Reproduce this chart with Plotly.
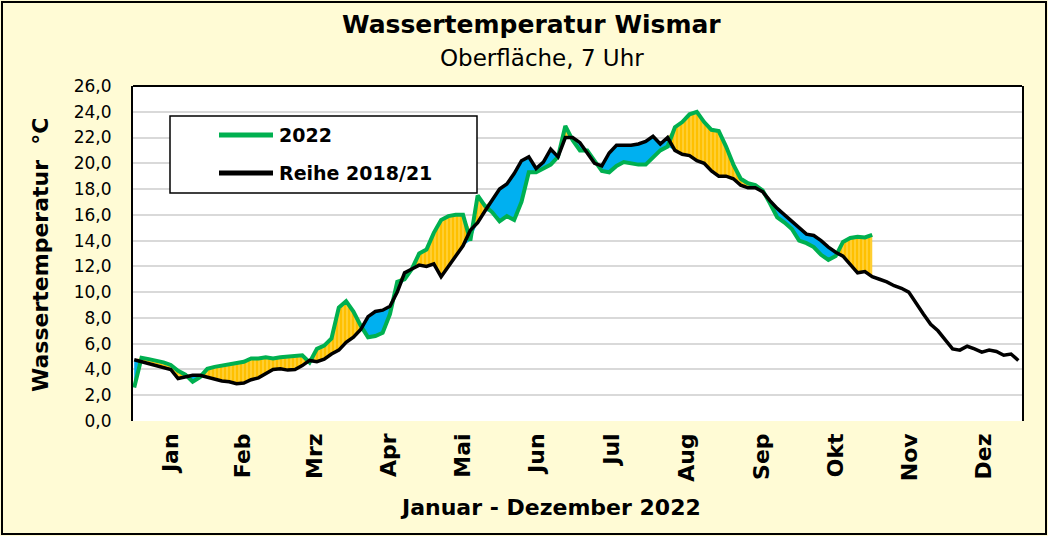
import numpy as np
import plotly.graph_objects as go

# ---------------- data ----------------
days = list(range(1, 366, 3))  # sample days of the year

ref_vals = [
    4.75, 4.6, 4.45, 4.3, 4.2, 4.0, 3.3, 3.45, 3.55, 3.55,
    3.4, 3.2, 3.1, 3.05, 2.9, 2.95, 3.2, 3.35, 3.7, 4.0,
    4.05, 3.95, 4.0, 4.3, 4.7, 4.6, 4.8, 5.2, 5.5, 6.1,
    6.5, 7.1, 8.1, 8.5, 8.6, 8.9, 10.0, 11.5, 11.8, 12.1,
    12.0, 12.2, 11.2, 12.0, 12.7, 13.6, 14.8, 15.4, 16.3, 17.2,
    18.0, 18.4, 19.2, 20.2, 20.5, 19.6, 20.1, 21.1, 20.5, 22.0,
    22.0, 21.6, 20.8, 20.0, 19.8, 20.8, 21.4, 21.4, 21.4, 21.5,
    21.7, 22.1, 21.5, 22.0, 21.0, 20.7, 20.6, 20.2, 20.0, 19.4,
    19.0, 19.0, 18.8, 18.3, 18.1, 18.1, 17.8, 17.1, 16.5, 16.0,
    15.5, 15.0, 14.5, 14.4, 14.0, 13.5, 13.1, 12.8, 12.1, 11.5,
    11.6, 11.2, 11.0, 10.8, 10.5, 10.3, 10.0, 9.1, 8.3, 7.5,
    7.0, 6.3, 5.6, 5.5, 5.8, 5.6, 5.35, 5.5, 5.4, 5.1,
    5.2, 4.7,
]

vals_2022 = [
    2.6, 4.9, 4.8, 4.7, 4.55, 4.35, 3.9, 3.6, 3.05, 3.4,
    4.05, 4.2, 4.3, 4.45, 4.55, 4.6, 4.85, 4.85, 4.95, 4.85,
    4.95, 5.0, 5.0, 5.1, 4.55, 5.6, 5.85, 6.4, 8.8, 9.3,
    8.5, 7.4, 6.5, 6.6, 6.85, 8.3, 10.8, 11.0, 11.8, 13.0,
    13.3, 14.6, 15.6, 15.9, 16.0, 16.0, 14.0, 17.5, 16.7, 16.2,
    15.5, 15.9, 15.6, 17.0, 19.3, 19.3, 19.6, 19.9, 20.5, 22.9,
    21.8, 21.0, 21.0, 20.2, 19.4, 19.3, 19.8, 20.1, 20.0, 19.9,
    19.9, 20.4, 21.0, 21.3, 22.8, 23.2, 23.8, 24.0, 23.2, 22.6,
    22.5, 21.3, 19.9, 18.8, 18.45, 18.3, 17.9, 16.9, 15.8, 15.4,
    14.9, 14.0, 13.8, 13.5, 12.9, 12.5, 12.8, 13.9, 14.2, 14.3,
    14.25, 14.45,
]

month_labels = ["Jan", "Feb", "Mrz", "Apr", "Mai", "Jun",
                "Jul", "Aug", "Sep", "Okt", "Nov", "Dez"]
month_mid_days = [16, 45.5, 75, 105.5, 136, 166.5, 197, 228, 258.5, 289, 319.5, 350]

series_names = ["2022", "Reihe 2018/21"]

# ---------------- styling ----------------
FONT = "DejaVu Sans"
CREAM = "#FFFBD5"
GREEN = "#00B050"
ORANGE = "#FFC000"
BLUE = "#00B0F0"

n22 = len(vals_2022)
d22 = np.array(days[:n22])
a = np.array(vals_2022)
r = np.array(ref_vals[:n22])
hi = np.maximum(a, r)
lo = np.minimum(a, r)

fig = go.Figure()
# orange band (2022 above reference)
fig.add_trace(go.Scatter(x=d22, y=r, mode="lines", line=dict(width=0),
                         showlegend=False, hoverinfo="skip"))
fig.add_trace(go.Scatter(x=d22, y=hi, mode="lines", line=dict(width=0),
                         fill="tonexty", fillcolor=ORANGE,
                         fillpattern=dict(shape="|", fgcolor="#FFF0A8", bgcolor=ORANGE,
                                          size=4, solidity=0.3),
                         showlegend=False, hoverinfo="skip"))
# blue band (2022 below reference)
fig.add_trace(go.Scatter(x=d22, y=r, mode="lines", line=dict(width=0),
                         showlegend=False, hoverinfo="skip"))
fig.add_trace(go.Scatter(x=d22, y=lo, mode="lines", line=dict(width=0),
                         fill="tonexty", fillcolor=BLUE,
                         showlegend=False, hoverinfo="skip"))
# lines
fig.add_trace(go.Scatter(x=d22, y=a, mode="lines", name=series_names[0],
                         line=dict(color=GREEN, width=4), showlegend=False))
fig.add_trace(go.Scatter(x=days, y=ref_vals, mode="lines", name=series_names[1],
                         line=dict(color="#000000", width=3.5), showlegend=False))

L, R, T, B = 133, 26, 86, 115
W, H = 1048, 536
pw, ph = W - L - R, H - T - B


def px(xp):
    return (xp - L) / pw


def py(yp):
    return (H - B - yp) / ph


shapes = [
    # top border of plot
    dict(type="line", xref="paper", yref="paper", x0=0, x1=1, y0=1, y1=1,
         line=dict(color="#000000", width=2)),
    # outer frame
    dict(type="rect", xref="paper", yref="paper", x0=px(2), x1=px(1046),
         y0=py(534), y1=py(2), line=dict(color="#000000", width=2), layer="below"),
    # legend box
    dict(type="rect", xref="paper", yref="paper", x0=px(170), x1=px(477),
         y0=py(193), y1=py(116), fillcolor="#FFFFFF",
         line=dict(color="#000000", width=1.5), layer="above"),
    dict(type="line", xref="paper", yref="paper", x0=px(219), x1=px(273),
         y0=py(135), y1=py(135), line=dict(color=GREEN, width=5), layer="above"),
    dict(type="line", xref="paper", yref="paper", x0=px(219), x1=px(273),
         y0=py(173), y1=py(173), line=dict(color="#000000", width=5), layer="above"),
]

annotations = [
    dict(text="Wassertemperatur Wismar", xref="paper", yref="paper",
         x=px(531), y=py(24), xanchor="center", yanchor="middle", showarrow=False,
         font=dict(family=FONT, size=25, color="#000000", weight="bold")),
    dict(text="Oberfläche, 7 Uhr", xref="paper", yref="paper",
         x=px(542), y=py(58), xanchor="center", yanchor="middle", showarrow=False,
         font=dict(family=FONT, size=23, color="#000000")),
    dict(text="Wassertemperatur  °C", xref="paper", yref="paper", textangle=-90,
         x=px(40), y=py(255), xanchor="center", yanchor="middle", showarrow=False,
         font=dict(family=FONT, size=22, color="#000000", weight="bold")),
    dict(text="Januar - Dezember 2022", xref="paper", yref="paper",
         x=px(550), y=py(507), xanchor="center", yanchor="middle", showarrow=False,
         font=dict(family=FONT, size=22, color="#000000", weight="bold")),
    dict(text=series_names[0], xref="paper", yref="paper",
         x=px(277), y=py(135), xanchor="left", yanchor="middle", showarrow=False,
         font=dict(family=FONT, size=19, color="#000000", weight="bold")),
    dict(text=series_names[1], xref="paper", yref="paper",
         x=px(277), y=py(173), xanchor="left", yanchor="middle", showarrow=False,
         font=dict(family=FONT, size=19, color="#000000", weight="bold")),
]

fig.update_layout(
    width=W, height=H,
    margin=dict(l=L, r=R, t=T, b=B, pad=0),
    paper_bgcolor=CREAM,
    plot_bgcolor="#FFFFFF",
    separators=", ",
    showlegend=False,
    hovermode=False,
    shapes=shapes,
    annotations=annotations,
    xaxis=dict(range=[0.5, 365.5], tickmode="array", tickvals=month_mid_days,
               ticktext=month_labels, tickangle=-90, ticks="",
               showgrid=False, zeroline=False, showline=False,
               ticklabelstandoff=7,
               tickfont=dict(family=FONT, size=22, color="#000000", weight="bold")),
    yaxis=dict(range=[0, 26], dtick=2, tick0=0, tickformat=".1f", ticks="",
               showgrid=True, gridcolor="#D9D9D9", gridwidth=2,
               zeroline=False, showline=True, linecolor="#000000", linewidth=2,
               mirror=True, ticklabelstandoff=16,
               tickfont=dict(family=FONT, size=17, color="#000000")),
)

fig.write_html("out.html", config={"displayModeBar": False},
               post_script="document.body.style.margin='0px';")
